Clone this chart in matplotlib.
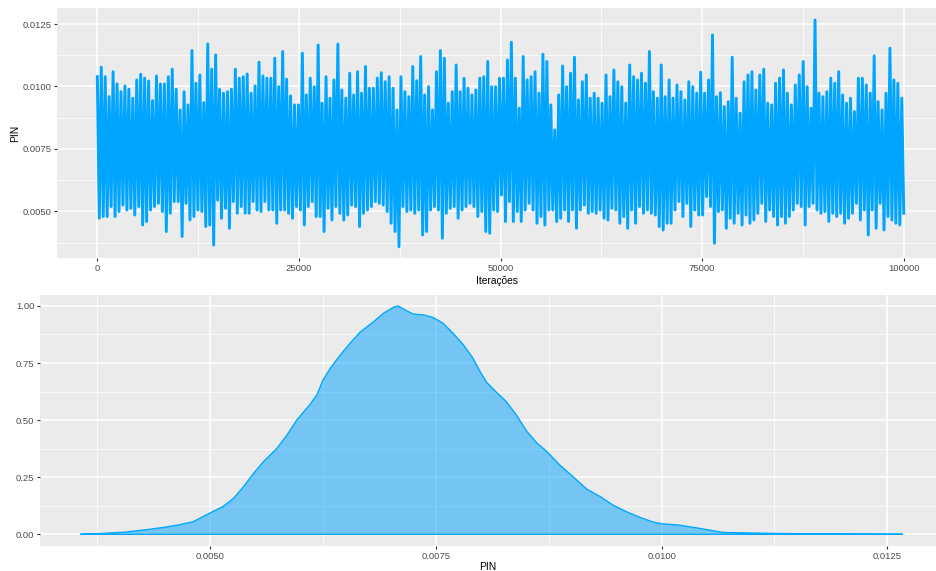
import matplotlib.pyplot as plt
import numpy as np

plt.rcParams['font.family'] = ['Liberation Sans', 'DejaVu Sans']
plt.rcParams['path.simplify'] = False

# cadeia do PIN (máximos e mínimos locais ao longo das iterações)
pin_max = [
    0.01039, 0.01077, 0.01039, 0.00959, 0.01059, 0.01010, 0.00979, 0.01002, 0.00989, 0.00953,
    0.01026, 0.01049, 0.01033, 0.01022, 0.00943, 0.01042, 0.01010, 0.01010, 0.01039, 0.01069,
    0.00989, 0.00906, 0.00979, 0.00926, 0.01144, 0.01013, 0.01046, 0.00935, 0.01170, 0.01069,
    0.01126, 0.00989, 0.00973, 0.00979, 0.00989, 0.01069, 0.01033, 0.01039, 0.01050, 0.00973,
    0.01002, 0.01097, 0.01042, 0.01033, 0.01033, 0.01113, 0.00999, 0.01140, 0.01029, 0.00962,
    0.00926,
    0.00926, 0.01133, 0.00966, 0.01033, 0.00999, 0.01166, 0.00933, 0.01039, 0.00953, 0.01026,
    0.01170, 0.00986, 0.00953, 0.01053, 0.00966, 0.01059, 0.00973, 0.01080, 0.00993, 0.00993,
    0.01033, 0.01055, 0.01019, 0.01039, 0.00993, 0.00906, 0.01039, 0.00979, 0.00959, 0.01080,
    0.01023, 0.01120, 0.00966, 0.00999, 0.00906, 0.01059, 0.01144, 0.01113, 0.00933, 0.00979,
    0.01086, 0.00979, 0.01033, 0.00993, 0.00966, 0.00986, 0.01033, 0.01039, 0.01100, 0.00999,
    0.00999, 0.01033,
    0.01033, 0.01106, 0.01177, 0.01033, 0.00913, 0.01120, 0.01026, 0.01039, 0.01059, 0.00973,
    0.01129, 0.01100, 0.00926, 0.00826, 0.00966, 0.01082, 0.00999, 0.01053, 0.01117, 0.00946,
    0.01019, 0.01046, 0.00953, 0.00973, 0.00953, 0.00933, 0.01046, 0.00959, 0.01066, 0.01019,
    0.00999, 0.00933, 0.01086, 0.01039, 0.01026, 0.01053, 0.01013, 0.01140, 0.00979, 0.00953,
    0.01086, 0.00959, 0.01026, 0.00953, 0.01006, 0.00979, 0.00946, 0.01019, 0.00999, 0.00973,
    0.01057, 0.00973,
    0.01026, 0.01206, 0.00959, 0.00975, 0.00919, 0.00939, 0.01117, 0.00953, 0.00893, 0.01019,
    0.01046, 0.01059, 0.00986, 0.01046, 0.01069, 0.00933, 0.00926, 0.01013, 0.01033, 0.01066,
    0.00973, 0.00926, 0.01006, 0.01046, 0.01100, 0.00999, 0.00913, 0.01266, 0.00973, 0.00959,
    0.00979, 0.01033, 0.01013, 0.01059, 0.00966, 0.00933, 0.00953, 0.00899, 0.01033, 0.01033,
    0.01006, 0.00973, 0.01122, 0.00939, 0.00906, 0.00973, 0.01153, 0.01026, 0.01013, 0.00953,
]
pin_min = [
    0.00472, 0.00479, 0.00479, 0.00519, 0.00479, 0.00499, 0.00525, 0.00505, 0.00512, 0.00485,
    0.00519, 0.00445, 0.00459, 0.00505, 0.00519, 0.00532, 0.00499, 0.00419, 0.00492, 0.00539,
    0.00539, 0.00399, 0.00532, 0.00465, 0.00479, 0.00505, 0.00499, 0.00439, 0.00445, 0.00365,
    0.00545, 0.00472, 0.00512, 0.00432, 0.00539, 0.00492, 0.00519, 0.00492, 0.00492, 0.00539,
    0.00505, 0.00499, 0.00539, 0.00505, 0.00505, 0.00452, 0.00505, 0.00505, 0.00492, 0.00472,
    0.00519,
    0.00505, 0.00445, 0.00519, 0.00539, 0.00479, 0.00479, 0.00419, 0.00512, 0.00465, 0.00519,
    0.00492, 0.00465, 0.00485, 0.00525, 0.00519, 0.00439, 0.00492, 0.00505, 0.00519, 0.00539,
    0.00532, 0.00525, 0.00499, 0.00452, 0.00419, 0.00358, 0.00519, 0.00499, 0.00505, 0.00492,
    0.00505, 0.00405, 0.00419, 0.00505, 0.00519, 0.00505, 0.00392, 0.00492, 0.00512, 0.00519,
    0.00472, 0.00505, 0.00519, 0.00532, 0.00519, 0.00479, 0.00499, 0.00419, 0.00412, 0.00505,
    0.00499, 0.00565,
    0.00459, 0.00539, 0.00459, 0.00499, 0.00459, 0.00505, 0.00532, 0.00505, 0.00452, 0.00479,
    0.00445, 0.00505, 0.00505, 0.00459, 0.00472, 0.00505, 0.00459, 0.00505, 0.00432, 0.00505,
    0.00525, 0.00492, 0.00499, 0.00492, 0.00505, 0.00472, 0.00465, 0.00512, 0.00505, 0.00452,
    0.00479, 0.00432, 0.00505, 0.00452, 0.00519, 0.00492, 0.00505, 0.00492, 0.00485, 0.00439,
    0.00425, 0.00452, 0.00452, 0.00505, 0.00539, 0.00479, 0.00532, 0.00439, 0.00505, 0.00485,
    0.00485, 0.00559,
    0.00519, 0.00372, 0.00499, 0.00505, 0.00432, 0.00472, 0.00452, 0.00492, 0.00445, 0.00485,
    0.00452, 0.00465, 0.00492, 0.00532, 0.00459, 0.00505, 0.00479, 0.00445, 0.00479, 0.00452,
    0.00479, 0.00505, 0.00532, 0.00519, 0.00445, 0.00519, 0.00532, 0.00505, 0.00492, 0.00499,
    0.00459, 0.00492, 0.00479, 0.00492, 0.00452, 0.00472, 0.00492, 0.00532, 0.00465, 0.00505,
    0.00405, 0.00505, 0.00432, 0.00532, 0.00425, 0.00479, 0.00465, 0.00452, 0.00445, 0.00492,
]
n_iter = 100000

# densidade (escalada) do PIN
dens_x = [0.00357, 0.00378, 0.00407, 0.00433, 0.00450, 0.00466, 0.00481, 0.00500, 0.00514,
          0.00526, 0.00537, 0.00548, 0.00559, 0.00574, 0.00585, 0.00596, 0.00610, 0.00618,
          0.00625, 0.00633, 0.00644, 0.00655, 0.00666, 0.00681, 0.00692, 0.00703, 0.00708,
          0.00716, 0.00725, 0.00736, 0.00747, 0.00758, 0.00769, 0.00780, 0.00791, 0.00799,
          0.00806, 0.00817, 0.00828, 0.00839, 0.00851, 0.00862, 0.00873, 0.00887, 0.00902,
          0.00917, 0.00932, 0.00946, 0.00961, 0.00976, 0.00991, 0.01000, 0.01020, 0.01042,
          0.01068, 0.01120, 0.01186, 0.01267]
dens_y = [0.000, 0.003, 0.010, 0.022, 0.031, 0.042, 0.055, 0.094, 0.121,
          0.158, 0.209, 0.267, 0.318, 0.377, 0.435, 0.501, 0.566, 0.610,
          0.676, 0.727, 0.785, 0.837, 0.885, 0.931, 0.968, 0.994, 1.000,
          0.982, 0.964, 0.961, 0.949, 0.924, 0.880, 0.832, 0.771, 0.712,
          0.666, 0.622, 0.581, 0.523, 0.449, 0.399, 0.362, 0.304, 0.252,
          0.198, 0.165, 0.128, 0.099, 0.074, 0.053, 0.046, 0.040, 0.026,
          0.008, 0.004, 0.001, 0.000]

blue = '#00A9FF'


def gg_axes(ax):
    ax.set_facecolor('#EBEBEB')
    for s in ax.spines.values():
        s.set_visible(False)
    ax.grid(which='major', color='white', linewidth=1.1)
    ax.grid(which='minor', color='white', linewidth=0.55)
    ax.set_axisbelow(True)
    ax.tick_params(which='major', length=2.5, width=0.8, color='#333333',
                   labelsize=6.8, labelcolor='#4D4D4D', pad=1.5)
    ax.tick_params(which='minor', length=0)


fig = plt.figure(figsize=(9.36, 5.71), dpi=100)

# traço
ax1 = fig.add_axes([0.0609, 0.5476, 0.9391, 0.4384])
gg_axes(ax1)
chain = np.empty(2 * len(pin_max))
chain[0::2] = pin_max
chain[1::2] = pin_min
iters = np.linspace(0, n_iter, len(chain))
ax1.plot(iters, chain, color='#00A5FF', linewidth=2.1)
ax1.set_xlim(-5000, 104000)
ax1.set_ylim(0.003117, 0.013141)
ax1.set_xticks([0, 25000, 50000, 75000, 100000])
ax1.set_xticks([12500, 37500, 62500, 87500], minor=True)
ax1.set_yticks([0.0050, 0.0075, 0.0100, 0.0125])
ax1.set_yticks([0.00375, 0.00625, 0.00875, 0.01125], minor=True)
ax1.set_xticklabels(['0', '25000', '50000', '75000', '100000'])
ax1.set_yticklabels(['0.0050', '0.0075', '0.0100', '0.0125'])
ax1.set_xlabel('Iterações', fontsize=7.4, labelpad=2)
ax1.set_ylabel('PIN', fontsize=7.4, labelpad=1.5)

# densidade
ax2 = fig.add_axes([0.0427, 0.0438, 0.9573, 0.4396])
gg_axes(ax2)
ax2.fill_between(dens_x, dens_y, 0, facecolor='#00A0FE', alpha=0.5, linewidth=0)
ax2.plot(dens_x + dens_x[::-1], dens_y + [0] * len(dens_x), color=blue, linewidth=1.0)
ax2.set_xlim(0.003114, 0.013039)
ax2.set_ylim(-0.0512, 1.048)
ax2.set_xticks([0.0050, 0.0075, 0.0100, 0.0125])
ax2.set_xticks([0.00375, 0.00625, 0.00875, 0.01125], minor=True)
ax2.set_yticks([0, 0.25, 0.5, 0.75, 1.0])
ax2.set_yticks([0.125, 0.375, 0.625, 0.875], minor=True)
ax2.set_xticklabels(['0.0050', '0.0075', '0.0100', '0.0125'])
ax2.set_yticklabels(['0.00', '0.25', '0.50', '0.75', '1.00'])
ax2.set_xlabel('PIN', fontsize=7.4, labelpad=1)

fig.savefig('out.png', dpi=100)
